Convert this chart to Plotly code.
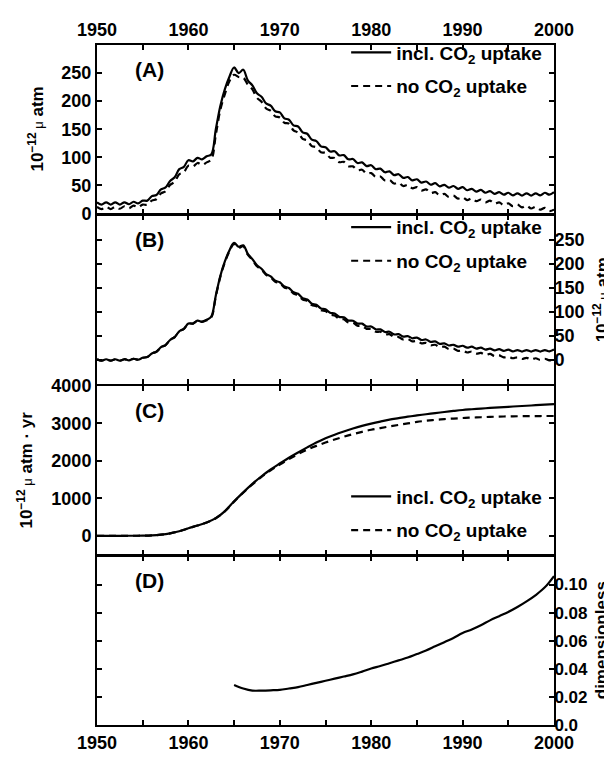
import plotly.graph_objects as go

# ---------------- data ----------------
years_half = [1950 + 0.5 * i for i in range(101)]
years = list(range(1950, 2001))

# Panel A (10^-12 micro atm), half-year samples
a_incl = [20, 16, 20, 16, 20, 16, 20, 16.5, 21, 18,
          23, 23, 31, 33, 43, 46.5, 58, 64.5, 79, 83,
          95, 93, 99, 96.5, 102, 105, 150, 192, 222, 244,
          260, 250, 256, 237, 228, 214, 208, 196, 192, 182,
          180, 169.5, 167, 157, 155, 144.5, 142, 131.5, 129, 119.5,
          118, 110.5, 111, 103.5, 104, 96.5, 97, 90, 91, 84.5,
          86, 79, 80, 73.5, 75, 68.5, 70, 63.5, 65, 59,
          61, 55, 57, 51.5, 54, 48.5, 51, 46, 49, 44,
          47, 41.5, 44, 39, 42, 37, 40, 35, 38, 33.5,
          37, 32.5, 36, 32, 36, 32, 36, 32.5, 37, 33.5, 38]
a_none = [12, 8, 12, 8, 12, 8.5, 13, 9.5, 14, 11,
          16, 15.5, 23, 25.5, 36, 39.5, 51, 56.5, 70, 73.5,
          85, 83.5, 90, 86.5, 91, 96, 140, 185, 213, 236,
          247, 243, 242, 229.5, 221, 206, 199, 187, 183, 173,
          171, 161.5, 160, 148, 144, 133, 130, 120, 118, 109,
          108, 99.5, 99, 91.5, 92, 84, 84, 77, 78, 71,
          72, 65, 66, 59, 60, 53.5, 55, 49, 51, 45,
          47, 41, 43, 36.5, 38, 32.5, 35, 29.5, 32, 26.5,
          29, 24, 27, 22, 25, 20, 23, 17.5, 20, 15,
          18, 13, 16, 11, 14, 9, 12, 7, 10, 4.5, 7]

# Panel B (10^-12 micro atm), half-year samples
b_incl = [1.5, -1.5, 1.5, -1.5, 1.5, -1.5, 1.5, -1, 2.5, 0.5,
          4.5, 6, 13.5, 17, 26.5, 31, 41.5, 47.5, 59.5, 64.5,
          75.5, 75.5, 81.5, 79.5, 83.5, 90, 134, 175, 205, 228,
          243, 235, 238, 220.5, 209.5, 196.5, 189.5, 178.5, 173.5, 164.5,
          161.5, 152.5, 149.5, 140.5, 137.5, 128.5, 125.5, 117, 114.5, 107,
          105.5, 98, 96.5, 89.5, 88.5, 82, 81.5, 75.5, 75.5, 69.5,
          69.5, 63.5, 63.5, 58, 58.5, 53, 53.5, 48.5, 49.5, 45,
          46.5, 41.5, 42.5, 37.5, 38.5, 33.5, 34.5, 30, 31.5, 27.5,
          29.5, 25.5, 27.5, 23.5, 25.5, 21.5, 23.5, 20, 22.5, 19,
          21.5, 18, 20.5, 17.5, 20.5, 17.5, 20.5, 17.5, 20.5, 18, 21.5]
b_none = [1.5, -1.5, 1.5, -1.5, 1.5, -1.5, 1.5, -1, 2.5, 0.5,
          4.5, 6, 13.5, 17, 26.5, 31, 41.5, 47.5, 59.5, 64.5,
          75.5, 75.5, 81.5, 79, 82.5, 88, 132, 173, 203, 226,
          241, 233, 236, 218.5, 207.5, 194.5, 187.5, 176.5, 171.5, 162.5,
          159.5, 150.5, 147.5, 138, 134.5, 125.5, 122.5, 114, 111.5, 103.5,
          101.5, 94, 92.5, 85.5, 84.5, 78, 77.5, 71, 70.5, 64.5,
          64.5, 58.5, 58.5, 53, 53.5, 47.5, 47.5, 42.5, 43.5, 38.5,
          39.5, 34.5, 35.5, 30.5, 31.5, 26.5, 27.5, 22.5, 23.5, 19,
          19.5, 15.5, 17.5, 13, 14.5, 10.5, 12.5, 8, 9.5, 5.5,
          7, 3.5, 5.5, 2, 4.5, 1, 3.5, 0, 2.5, -1, 1.5]

# Panel C (10^-12 micro atm * yr), yearly
c_incl = [0, 0, 0, 0, 1, 3, 10, 30, 65, 120,
          200, 275, 355, 470, 660, 920, 1160, 1385, 1590, 1770,
          1930, 2085, 2225, 2360, 2490, 2605, 2700, 2785, 2865, 2935,
          2995, 3050, 3100, 3140, 3180, 3214, 3245, 3275, 3305, 3333,
          3359, 3378, 3396, 3413, 3429, 3444, 3458, 3472, 3486, 3500, 3513]
c_none = [0, 0, 0, 0, 1, 3, 10, 30, 65, 120,
          200, 275, 355, 468, 655, 912, 1150, 1372, 1573, 1748,
          1900, 2050, 2180, 2300, 2400, 2490, 2570, 2645, 2715, 2775,
          2830, 2875, 2920, 2960, 3000, 3040, 3070, 3095, 3115, 3130,
          3145, 3155, 3165, 3175, 3182, 3188, 3192, 3195, 3197, 3198, 3198]

# Panel D (dimensionless), yearly from 1965
d_years = list(range(1965, 2001))
d_vals = [0.0285, 0.026, 0.0245, 0.0245, 0.0247, 0.025, 0.026, 0.027, 0.0285, 0.030,
          0.0315, 0.033, 0.0345, 0.036, 0.038, 0.0402, 0.042, 0.044, 0.046, 0.048,
          0.0505, 0.053, 0.056, 0.059, 0.062, 0.0655, 0.068, 0.071, 0.0745, 0.0775,
          0.0805, 0.084, 0.088, 0.0925, 0.098, 0.106]

x_ticks = list(range(1950, 2001, 5))
x_text = [f"<b>{v}</b>" if v % 10 == 0 else "" for v in x_ticks]
ab_ticks = [0, 50, 100, 150, 200, 250]
c_ticks = [0, 1000, 2000, 3000, 4000]
d_ticks = [0, 0.02, 0.04, 0.06, 0.08, 0.10]
d_text = ["0.0", "0.02", "0.04", "0.06", "0.08", "0.10"]

lbl_incl = "<b>incl. CO<sub>2</sub> uptake</b>"
lbl_none = "<b>no CO<sub>2</sub> uptake</b>"
unit = "<b>10<sup>−12</sup></b><span style='font-size:13px'> μ</span><b> atm</b>"
unit_yr = unit + "<b> · yr</b>"

FONT = "Liberation Sans, Arial, Helvetica, sans-serif"

# ---------------- figure ----------------
fig = go.Figure()
line_solid = dict(color="black", width=2.2, shape="spline", smoothing=1)
line_dash = dict(color="black", width=2.2, shape="spline", smoothing=1, dash="7px,5px")

panels = [
    ("x", "y", years_half, a_incl, a_none, "legend"),
    ("x2", "y2", years_half, b_incl, b_none, "legend2"),
    ("x3", "y3", years, c_incl, c_none, "legend3"),
]
for xa, ya, xs, s1, s2, lg in panels:
    fig.add_trace(go.Scatter(x=xs, y=s1, mode="lines", line=line_solid, name=lbl_incl,
                             xaxis=xa, yaxis=ya, legend=lg, legendgroup=lg + "a"))
    fig.add_trace(go.Scatter(x=xs, y=s2, mode="lines", line=line_dash, name=lbl_none,
                             xaxis=xa, yaxis=ya, legend=lg, legendgroup=lg + "b"))
fig.add_trace(go.Scatter(x=d_years, y=d_vals, mode="lines", line=line_solid,
                         xaxis="x4", yaxis="y4", showlegend=False))

tickfont = dict(family=FONT, size=18, color="black")
LW = 2
common_x = dict(range=[1950, 2000], tickvals=x_ticks, ticktext=x_text, ticks="inside",
                ticklen=5, tickwidth=2, tickcolor="black", showline=True, linewidth=LW,
                linecolor="black", mirror="ticks", showgrid=False, zeroline=False,
                tickfont=tickfont)
common_y = dict(ticks="inside", ticklen=5, tickwidth=2, tickcolor="black", showline=True,
                linewidth=LW, linecolor="black", mirror="ticks", showgrid=False,
                zeroline=False, tickfont=tickfont)

H = 701.0
g = LW / H
f = (1 - 3 * g) / 4
doms = {"D": [0.0, f], "C": [f + g, 2 * f + g], "B": [2 * f + 2 * g, 3 * f + 2 * g],
        "A": [3 * f + 3 * g, 1.0]}

fig.update_layout(
    width=612, height=757,
    margin=dict(l=89, r=66, t=31, b=25),
    paper_bgcolor="white", plot_bgcolor="white",
    font=dict(family=FONT, color="black"),
    xaxis=dict(common_x, anchor="y", side="top", showticklabels=True),
    xaxis2=dict(common_x, anchor="y2", matches="x", showticklabels=False),
    xaxis3=dict(common_x, anchor="y3", matches="x", showticklabels=False),
    xaxis4=dict(common_x, anchor="y4", matches="x", side="bottom", showticklabels=True),
    yaxis=dict(common_y, anchor="x", domain=doms["A"], range=[0, 300],
               tickvals=ab_ticks, ticktext=[f"<b>{v}</b>" for v in ab_ticks], side="left"),
    yaxis2=dict(common_y, anchor="x2", domain=doms["B"], range=[-50, 300],
                tickvals=ab_ticks, ticktext=[f"<b>{v}</b>" for v in ab_ticks], side="right",
                ticklabelstandoff=-5),
    yaxis3=dict(common_y, anchor="x3", domain=doms["C"], range=[-500, 4000],
                tickvals=c_ticks, ticktext=[f"<b>{v}</b>" for v in c_ticks], side="left"),
    yaxis4=dict(common_y, anchor="x4", domain=doms["D"], range=[0, 0.12],
                tickvals=d_ticks, ticktext=[f"<b>{t}</b>" for t in d_text], side="right",
                ticklabelstandoff=-5, tickfont=dict(family=FONT, size=17, color="black")),
    showlegend=True,
)

leg_common = dict(bgcolor="rgba(0,0,0,0)", borderwidth=0, xanchor="right", yanchor="top",
                  itemwidth=40, tracegroupgap=6,
                  font=dict(family=FONT, size=19, color="black"))
fig.update_layout(
    legend=dict(leg_common, x=0.985, y=1.017),
    legend2=dict(leg_common, x=0.985, y=0.76),
    legend3=dict(leg_common, x=0.985, y=0.364),
)

# axis titles (rotated text beside each panel)
title_font = dict(family=FONT, size=17, color="black")
for txt, ya, xpos in [(unit, "y", -0.133), (unit, "y2", 1.102),
                      (unit_yr, "y3", -0.157), ("<b>dimensionless</b>", "y4", 1.104)]:
    fig.add_annotation(text=txt, xref="paper", yref=ya + " domain", x=xpos, y=0.5,
                       xanchor="center", yanchor="middle", textangle=-90, showarrow=False,
                       font=title_font)

# panel labels
for name, ya in zip(["A", "B", "C", "D"], ["y", "y2", "y3", "y4"]):
    fig.add_annotation(text=f"<b>({name})</b>", xref="x domain", yref=ya + " domain",
                       x=0.078, y=0.855, xanchor="left", yanchor="middle", showarrow=False,
                       font=dict(family=FONT, size=21, color="black"))

fig.write_html("out.html")
